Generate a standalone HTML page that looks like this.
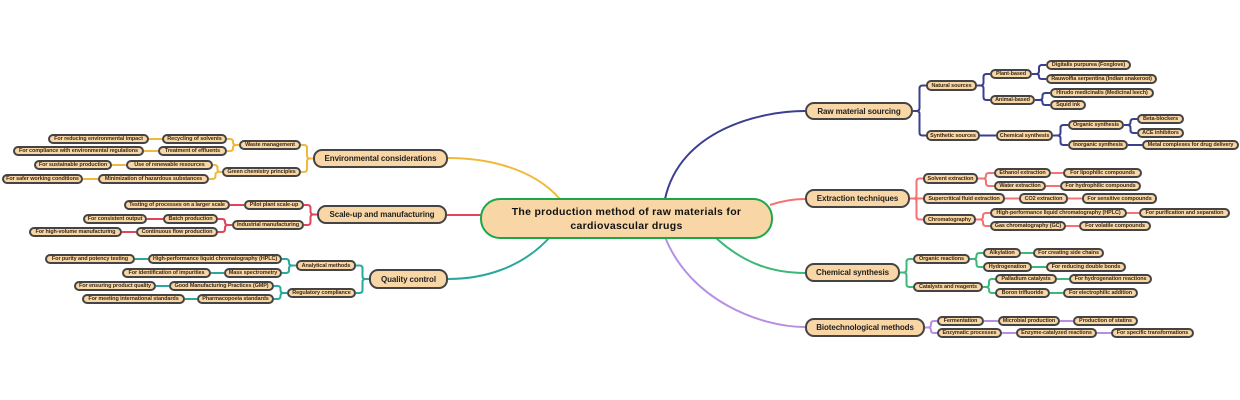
<!DOCTYPE html>
<html><head><meta charset="utf-8"><style>
body{margin:0;width:1240px;height:400px;background:#fff;position:relative;overflow:hidden;font-family:"Liberation Sans",sans-serif}
svg{position:absolute;left:0;top:0}
.n{position:absolute;box-sizing:border-box;border:2px solid #444;border-radius:5px;background:#f8d6a6;display:flex;align-items:center;justify-content:center;font-size:5.5px;color:#3a2a18;white-space:nowrap;font-weight:bold;letter-spacing:-0.1px}
.m{border:2.4px solid #444;border-radius:9px;font-size:8px;color:#222;font-weight:bold}
.c{border:2.2px solid #1aa84a;border-radius:20px;font-size:10.5px;color:#111;font-weight:bold;text-align:center;line-height:14px;letter-spacing:0.3px}
</style></head><body>
<svg id="s" width="1240" height="400"></svg>
<div class="n c" id="X" style="left:480px;top:198px;width:293px;height:41px">The production method of raw materials for<br>cardiovascular drugs</div>

<div class="n m" id="R0" style="left:805px;top:102px;width:108px;height:18px">Raw material sourcing</div>
<div class="n" id="R1" style="left:926px;top:80px;width:51px;height:11px">Natural sources</div>
<div class="n" id="R2" style="left:990px;top:69px;width:42px;height:10px">Plant-based</div>
<div class="n" id="R3" style="left:990px;top:95px;width:45px;height:10px">Animal-based</div>
<div class="n" id="R4" style="left:1046px;top:60px;width:85px;height:10px">Digitalis purpurea (Foxglove)</div>
<div class="n" id="R5" style="left:1046px;top:74px;width:111px;height:10px">Rauwolfia serpentina (Indian snakeroot)</div>
<div class="n" id="R6" style="left:1050px;top:88px;width:104px;height:10px">Hirudo medicinalis (Medicinal leech)</div>
<div class="n" id="R7" style="left:1050px;top:100px;width:36px;height:10px">Squid ink</div>
<div class="n" id="R8" style="left:926px;top:130px;width:54px;height:11px">Synthetic sources</div>
<div class="n" id="R9" style="left:996px;top:130px;width:57px;height:11px">Chemical synthesis</div>
<div class="n" id="R10" style="left:1068px;top:120px;width:56px;height:10px">Organic synthesis</div>
<div class="n" id="R11" style="left:1068px;top:140px;width:60px;height:10px">Inorganic synthesis</div>
<div class="n" id="R12" style="left:1137px;top:114px;width:47px;height:10px">Beta-blockers</div>
<div class="n" id="R13" style="left:1137px;top:128px;width:47px;height:10px">ACE inhibitors</div>
<div class="n" id="R14" style="left:1142px;top:140px;width:97px;height:10px">Metal complexes for drug delivery</div>

<div class="n m" id="E0" style="left:805px;top:189px;width:105px;height:19px">Extraction techniques</div>
<div class="n" id="E1" style="left:923px;top:173px;width:55px;height:11px">Solvent extraction</div>
<div class="n" id="E2" style="left:994px;top:168px;width:57px;height:10px">Ethanol extraction</div>
<div class="n" id="E3" style="left:994px;top:181px;width:52px;height:10px">Water extraction</div>
<div class="n" id="E4" style="left:1063px;top:168px;width:79px;height:10px">For lipophilic compounds</div>
<div class="n" id="E5" style="left:1060px;top:181px;width:81px;height:10px">For hydrophilic compounds</div>
<div class="n" id="E6" style="left:923px;top:193px;width:82px;height:11px">Supercritical fluid extraction</div>
<div class="n" id="E7" style="left:1019px;top:193px;width:49px;height:11px">CO2 extraction</div>
<div class="n" id="E8" style="left:1082px;top:193px;width:75px;height:11px">For sensitive compounds</div>
<div class="n" id="E9" style="left:923px;top:214px;width:53px;height:11px">Chromatography</div>
<div class="n" id="E10" style="left:990px;top:208px;width:137px;height:10px">High-performance liquid chromatography (HPLC)</div>
<div class="n" id="E11" style="left:990px;top:221px;width:76px;height:10px">Gas chromatography (GC)</div>
<div class="n" id="E12" style="left:1139px;top:208px;width:91px;height:10px">For purification and separation</div>
<div class="n" id="E13" style="left:1079px;top:221px;width:72px;height:10px">For volatile compounds</div>

<div class="n m" id="C0" style="left:805px;top:263px;width:95px;height:19px">Chemical synthesis</div>
<div class="n" id="C1" style="left:913px;top:254px;width:57px;height:10px">Organic reactions</div>
<div class="n" id="C2" style="left:983px;top:248px;width:38px;height:10px">Alkylation</div>
<div class="n" id="C3" style="left:983px;top:262px;width:49px;height:10px">Hydrogenation</div>
<div class="n" id="C4" style="left:1033px;top:248px;width:71px;height:10px">For creating side chains</div>
<div class="n" id="C5" style="left:1046px;top:262px;width:80px;height:10px">For reducing double bonds</div>
<div class="n" id="C6" style="left:913px;top:282px;width:70px;height:10px">Catalysts and reagents</div>
<div class="n" id="C7" style="left:995px;top:274px;width:62px;height:10px">Palladium catalysts</div>
<div class="n" id="C8" style="left:995px;top:288px;width:55px;height:10px">Boron trifluoride</div>
<div class="n" id="C9" style="left:1069px;top:274px;width:83px;height:10px">For hydrogenation reactions</div>
<div class="n" id="C10" style="left:1063px;top:288px;width:75px;height:10px">For electrophilic addition</div>

<div class="n m" id="B0" style="left:805px;top:318px;width:120px;height:19px">Biotechnological methods</div>
<div class="n" id="B1" style="left:937px;top:316px;width:47px;height:10px">Fermentation</div>
<div class="n" id="B2" style="left:937px;top:328px;width:65px;height:10px">Enzymatic processes</div>
<div class="n" id="B3" style="left:998px;top:316px;width:62px;height:10px">Microbial production</div>
<div class="n" id="B4" style="left:1073px;top:316px;width:65px;height:10px">Production of statins</div>
<div class="n" id="B5" style="left:1016px;top:328px;width:81px;height:10px">Enzyme-catalyzed reactions</div>
<div class="n" id="B6" style="left:1111px;top:328px;width:83px;height:10px">For specific transformations</div>

<div class="n m" id="L0" style="left:313px;top:149px;width:135px;height:19px">Environmental considerations</div>
<div class="n" id="L1" style="left:239px;top:140px;width:62px;height:10px">Waste management</div>
<div class="n" id="L2" style="left:222px;top:167px;width:79px;height:10px">Green chemistry principles</div>
<div class="n" id="L3" style="left:162px;top:134px;width:65px;height:10px">Recycling of solvents</div>
<div class="n" id="L4" style="left:158px;top:146px;width:69px;height:10px">Treatment of effluents</div>
<div class="n" id="L5" style="left:48px;top:134px;width:101px;height:10px">For reducing environmental impact</div>
<div class="n" id="L6" style="left:13px;top:146px;width:131px;height:10px">For compliance with environmental regulations</div>
<div class="n" id="L7" style="left:126px;top:160px;width:87px;height:10px">Use of renewable resources</div>
<div class="n" id="L8" style="left:98px;top:174px;width:111px;height:10px">Minimization of hazardous substances</div>
<div class="n" id="L9" style="left:34px;top:160px;width:78px;height:10px">For sustainable production</div>
<div class="n" id="L10" style="left:2px;top:174px;width:81px;height:10px">For safer working conditions</div>

<div class="n m" id="S0" style="left:317px;top:205px;width:130px;height:19px">Scale-up and manufacturing</div>
<div class="n" id="S1" style="left:244px;top:200px;width:60px;height:10px">Pilot plant scale-up</div>
<div class="n" id="S2" style="left:232px;top:220px;width:72px;height:10px">Industrial manufacturing</div>
<div class="n" id="S3" style="left:124px;top:200px;width:106px;height:10px">Testing of processes on a larger scale</div>
<div class="n" id="S4" style="left:163px;top:214px;width:55px;height:10px">Batch production</div>
<div class="n" id="S5" style="left:136px;top:227px;width:82px;height:10px">Continuous flow production</div>
<div class="n" id="S6" style="left:83px;top:214px;width:64px;height:10px">For consistent output</div>
<div class="n" id="S7" style="left:29px;top:227px;width:93px;height:10px">For high-volume manufacturing</div>

<div class="n m" id="Q0" style="left:369px;top:269px;width:79px;height:20px">Quality control</div>
<div class="n" id="Q1" style="left:296px;top:260px;width:60px;height:11px">Analytical methods</div>
<div class="n" id="Q2" style="left:287px;top:288px;width:69px;height:10px">Regulatory compliance</div>
<div class="n" id="Q3" style="left:148px;top:254px;width:134px;height:10px">High-performance liquid chromatography (HPLC)</div>
<div class="n" id="Q4" style="left:224px;top:268px;width:58px;height:10px">Mass spectrometry</div>
<div class="n" id="Q5" style="left:169px;top:281px;width:105px;height:10px">Good Manufacturing Practices (GMP)</div>
<div class="n" id="Q6" style="left:197px;top:294px;width:77px;height:10px">Pharmacopoeia standards</div>
<div class="n" id="Q7" style="left:45px;top:254px;width:90px;height:10px">For purity and potency testing</div>
<div class="n" id="Q8" style="left:122px;top:268px;width:89px;height:10px">For identification of impurities</div>
<div class="n" id="Q9" style="left:74px;top:281px;width:82px;height:10px">For ensuring product quality</div>
<div class="n" id="Q10" style="left:82px;top:294px;width:103px;height:10px">For meeting international standards</div>

<script>
var s=document.getElementById('s'),NS='http://www.w3.org/2000/svg';
function P(d,c,w){var p=document.createElementNS(NS,'path');p.setAttribute('d',d);p.setAttribute('stroke',c);p.setAttribute('stroke-width',w||2);p.setAttribute('fill','none');s.appendChild(p);}
function b(id){var e=document.getElementById(id);return {l:e.offsetLeft,t:e.offsetTop,r:e.offsetLeft+e.offsetWidth,y:e.offsetTop+e.offsetHeight/2};}
function E(a,c2,col){var A=b(a),B=b(c2),x1,x2,y1=A.y,y2=B.y;
 if(B.l>A.l){x1=A.r;x2=B.l;}else{x1=A.l;x2=B.r;}
 var mx=(x1+x2)/2,dy=y2-y1,r=Math.min(3,Math.abs(dy)/2),sy=dy>0?1:-1,sx=x2>x1?1:-1;
 if(Math.abs(dy)<1){P('M'+x1+' '+y1+'H'+x2,col);return;}
 P('M'+x1+' '+y1+'H'+(mx-sx*r)+'Q'+mx+' '+y1+' '+mx+' '+(y1+sy*r)+'V'+(y2-sy*r)+'Q'+mx+' '+y2+' '+(mx+sx*r)+' '+y2+'H'+x2,col);}
var T=[
['#3a3f8f',[['R0','R1'],['R0','R8'],['R1','R2'],['R1','R3'],['R2','R4'],['R2','R5'],['R3','R6'],['R3','R7'],['R8','R9'],['R9','R10'],['R9','R11'],['R10','R12'],['R10','R13'],['R11','R14']]],
['#f47272',[['E0','E1'],['E0','E6'],['E0','E9'],['E1','E2'],['E1','E3'],['E2','E4'],['E3','E5'],['E6','E7'],['E7','E8'],['E9','E10'],['E9','E11'],['E10','E12'],['E11','E13']]],
['#3cb878',[['C0','C1'],['C0','C6'],['C1','C2'],['C1','C3'],['C2','C4'],['C3','C5'],['C6','C7'],['C6','C8'],['C7','C9'],['C8','C10']]],
['#b78fe2',[['B0','B1'],['B0','B2'],['B1','B3'],['B3','B4'],['B2','B5'],['B5','B6']]],
['#f0b93a',[['L0','L1'],['L0','L2'],['L1','L3'],['L1','L4'],['L3','L5'],['L4','L6'],['L2','L7'],['L2','L8'],['L7','L9'],['L8','L10']]],
['#e0455a',[['S0','S1'],['S0','S2'],['S1','S3'],['S2','S4'],['S2','S5'],['S4','S6'],['S5','S7']]],
['#2aa89e',[['Q0','Q1'],['Q0','Q2'],['Q1','Q3'],['Q1','Q4'],['Q3','Q7'],['Q4','Q8'],['Q2','Q5'],['Q2','Q6'],['Q5','Q9'],['Q6','Q10']]]];
T.forEach(function(g){g[1].forEach(function(p){E(p[0],p[1],g[0]);});});
P('M665 199C680 130 760 111 805 111','#3a3f8f',2);
P('M770 205C785 200 795 199 805 199','#f47272',2);
P('M715 237C745 265 775 273 805 273','#3cb878',2);
P('M665 237C690 300 760 327 805 327','#b78fe2',2);
P('M560 199C530 165 480 158 448 158','#f0b93a',2);
P('M482 215L447 215','#e0455a',2);
P('M550 237C520 270 480 279 448 279','#2aa89e',2);
</script>
</body></html>
